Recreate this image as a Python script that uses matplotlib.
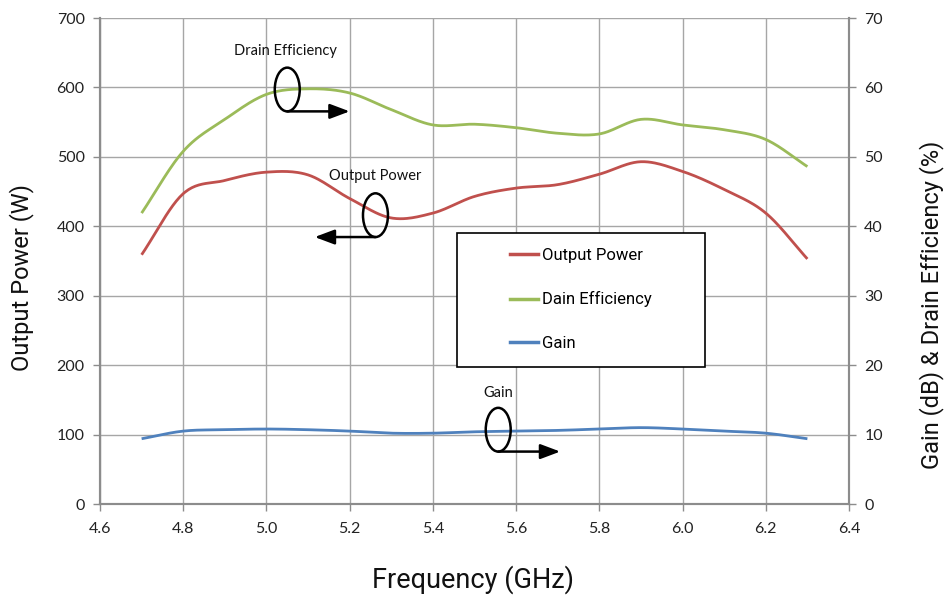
import numpy as np
import matplotlib
matplotlib.use("Agg")
import matplotlib.pyplot as plt
from matplotlib.patches import Ellipse, Rectangle
from matplotlib.lines import Line2D

# ---------------- data ----------------
FREQ = [4.7, 4.8, 4.9, 5.0, 5.1, 5.2, 5.3, 5.4, 5.5, 5.6, 5.7, 5.8, 5.9, 6.0, 6.1, 6.2, 6.3]
OUTPUT_POWER = [359, 447, 466, 478, 474, 440, 412, 419, 443, 455, 460, 475, 493, 479, 453, 419, 353]
DRAIN_EFF = [41.9, 50.8, 55.4, 59.0, 59.8, 59.2, 56.8, 54.6, 54.7, 54.2, 53.4, 53.3, 55.4, 54.6, 53.9, 52.5, 48.6]
GAIN = [9.4, 10.5, 10.7, 10.8, 10.7, 10.5, 10.2, 10.2, 10.4, 10.5, 10.6, 10.8, 11.0, 10.8, 10.5, 10.2, 9.4]

X_TICKS = [4.6, 4.8, 5.0, 5.2, 5.4, 5.6, 5.8, 6.0, 6.2, 6.4]
LEFT_TICKS = [0, 100, 200, 300, 400, 500, 600, 700]
RIGHT_TICKS = [0, 10, 20, 30, 40, 50, 60, 70]

RED = "#C0504D"
GREEN = "#9BBB59"
BLUE = "#4F81BD"
GRID = "#A6A6A6"
SPINE = "#8C8C8C"

TICK_FONT = "Lato"
LABEL_FONT = "Roboto"


def smooth(x, y, n=24):
    # catmull-rom, roughly what the spreadsheet "smoothed line" does
    x = np.asarray(x, float)
    y = np.asarray(y, float)
    px = np.concatenate([[2 * x[0] - x[1]], x, [2 * x[-1] - x[-2]]])
    py = np.concatenate([[2 * y[0] - y[1]], y, [2 * y[-1] - y[-2]]])
    t = np.linspace(0, 1, n, endpoint=False)
    xs, ys = [], []
    for i in range(1, len(px) - 2):
        for p, out in ((px, xs), (py, ys)):
            p0, p1, p2, p3 = p[i - 1], p[i], p[i + 1], p[i + 2]
            out.extend(0.5 * (2 * p1 + (-p0 + p2) * t + (2 * p0 - 5 * p1 + 4 * p2 - p3) * t ** 2
                              + (-p0 + 3 * p1 - 3 * p2 + p3) * t ** 3))
    xs.append(x[-1])
    ys.append(y[-1])
    return xs, ys


fig = plt.figure(figsize=(9.48, 5.99), dpi=100)
ax = fig.add_axes([100 / 948, 1 - 504 / 599, 749 / 948, 486 / 599])
ax2 = ax.twinx()

ax.grid(True, color=GRID, lw=1.0)
ax.set_axisbelow(True)

ax.plot(*smooth(FREQ, OUTPUT_POWER), color=RED, lw=2.0, solid_capstyle="butt")
ax2.plot(*smooth(FREQ, DRAIN_EFF), color=GREEN, lw=2.0, solid_capstyle="butt")
ax2.plot(*smooth(FREQ, GAIN), color=BLUE, lw=2.0, solid_capstyle="butt")

ax.set_xlim(4.6, 6.4)
ax.set_ylim(0, 700)
ax2.set_ylim(0, 70)
ax.set_xticks(X_TICKS)
ax.set_xticklabels(["%.1f" % v for v in X_TICKS])
ax.set_yticks(LEFT_TICKS)
ax2.set_yticks(RIGHT_TICKS)

for a in (ax, ax2):
    a.spines["top"].set_visible(False)
    for s in ("left", "right", "bottom"):
        a.spines[s].set_color(SPINE)
        a.spines[s].set_linewidth(1.5)
    a.tick_params(colors=SPINE, labelcolor="#222222", length=5, width=1, labelsize=11.5, pad=6)
    for lab in a.get_xticklabels() + a.get_yticklabels():
        lab.set_fontfamily(TICK_FONT)
ax.tick_params(axis="x", pad=8)

fig.text(0.0232, 0.536, "Output Power (W)", rotation=90, ha="center", va="center",
         fontsize=17, family=LABEL_FONT, color="#111111")
fig.text(0.983, 0.491, "Gain (dB) & Drain Efficiency (%)", rotation=90, ha="center", va="center",
         fontsize=17, family=LABEL_FONT, color="#111111")
fig.text(0.499, 0.032, "Frequency (GHz)", ha="center", va="center",
         fontsize=19.5, family=LABEL_FONT, color="#111111")

# ellipse + arrow markers telling which axis a curve belongs to (left-axis data coords)
marks = [
    ("Drain Efficiency", (5.046, 652), (5.05, 597), (5.20, 565)),
    ("Output Power", (5.262, 473), (5.262, 416), (5.116, 386)),
    ("Gain", (5.558, 160), (5.557, 107), (5.706, 75)),
]
for text, tpos, cpos, tip in marks:
    ax2.add_patch(Ellipse(cpos, 0.06, 63, transform=ax.transData, fill=False,
                          ec="black", lw=1.8, zorder=5))
    base = (cpos[0], cpos[1] - 31.5)
    ax2.annotate("", xy=(tip[0], base[1]), xytext=base, xycoords=ax.transData,
                 textcoords=ax.transData,
                 arrowprops=dict(arrowstyle="-|>,head_length=1.2,head_width=0.45",
                                 color="black", lw=1.8, shrinkA=0, shrinkB=0), zorder=5)
    ax2.text(tpos[0], tpos[1], text, transform=ax.transData, ha="center", va="center",
             fontsize=10.5, family=TICK_FONT, color="#111111")

# legend in its own box
fig.patches.append(Rectangle((457 / 948, 1 - 367 / 599), 248 / 948, 134 / 599,
                             transform=fig.transFigure, fill=True, fc="white",
                             ec="black", lw=1.2, zorder=6))
handles = [Line2D([], [], color=c, lw=2.5) for c in (RED, GREEN, BLUE)]
leg = fig.legend(handles, ["Output Power", "Dain Efficiency", "Gain"],
                 loc="upper left", bbox_to_anchor=(510 / 948, 1 - 248 / 599),
                 frameon=False, borderpad=0, borderaxespad=0, handlelength=1.7,
                 handletextpad=0.2, labelspacing=1.7, prop={"family": LABEL_FONT, "size": 12})
leg.set_zorder(7)

fig.savefig("out.png", dpi=100)
